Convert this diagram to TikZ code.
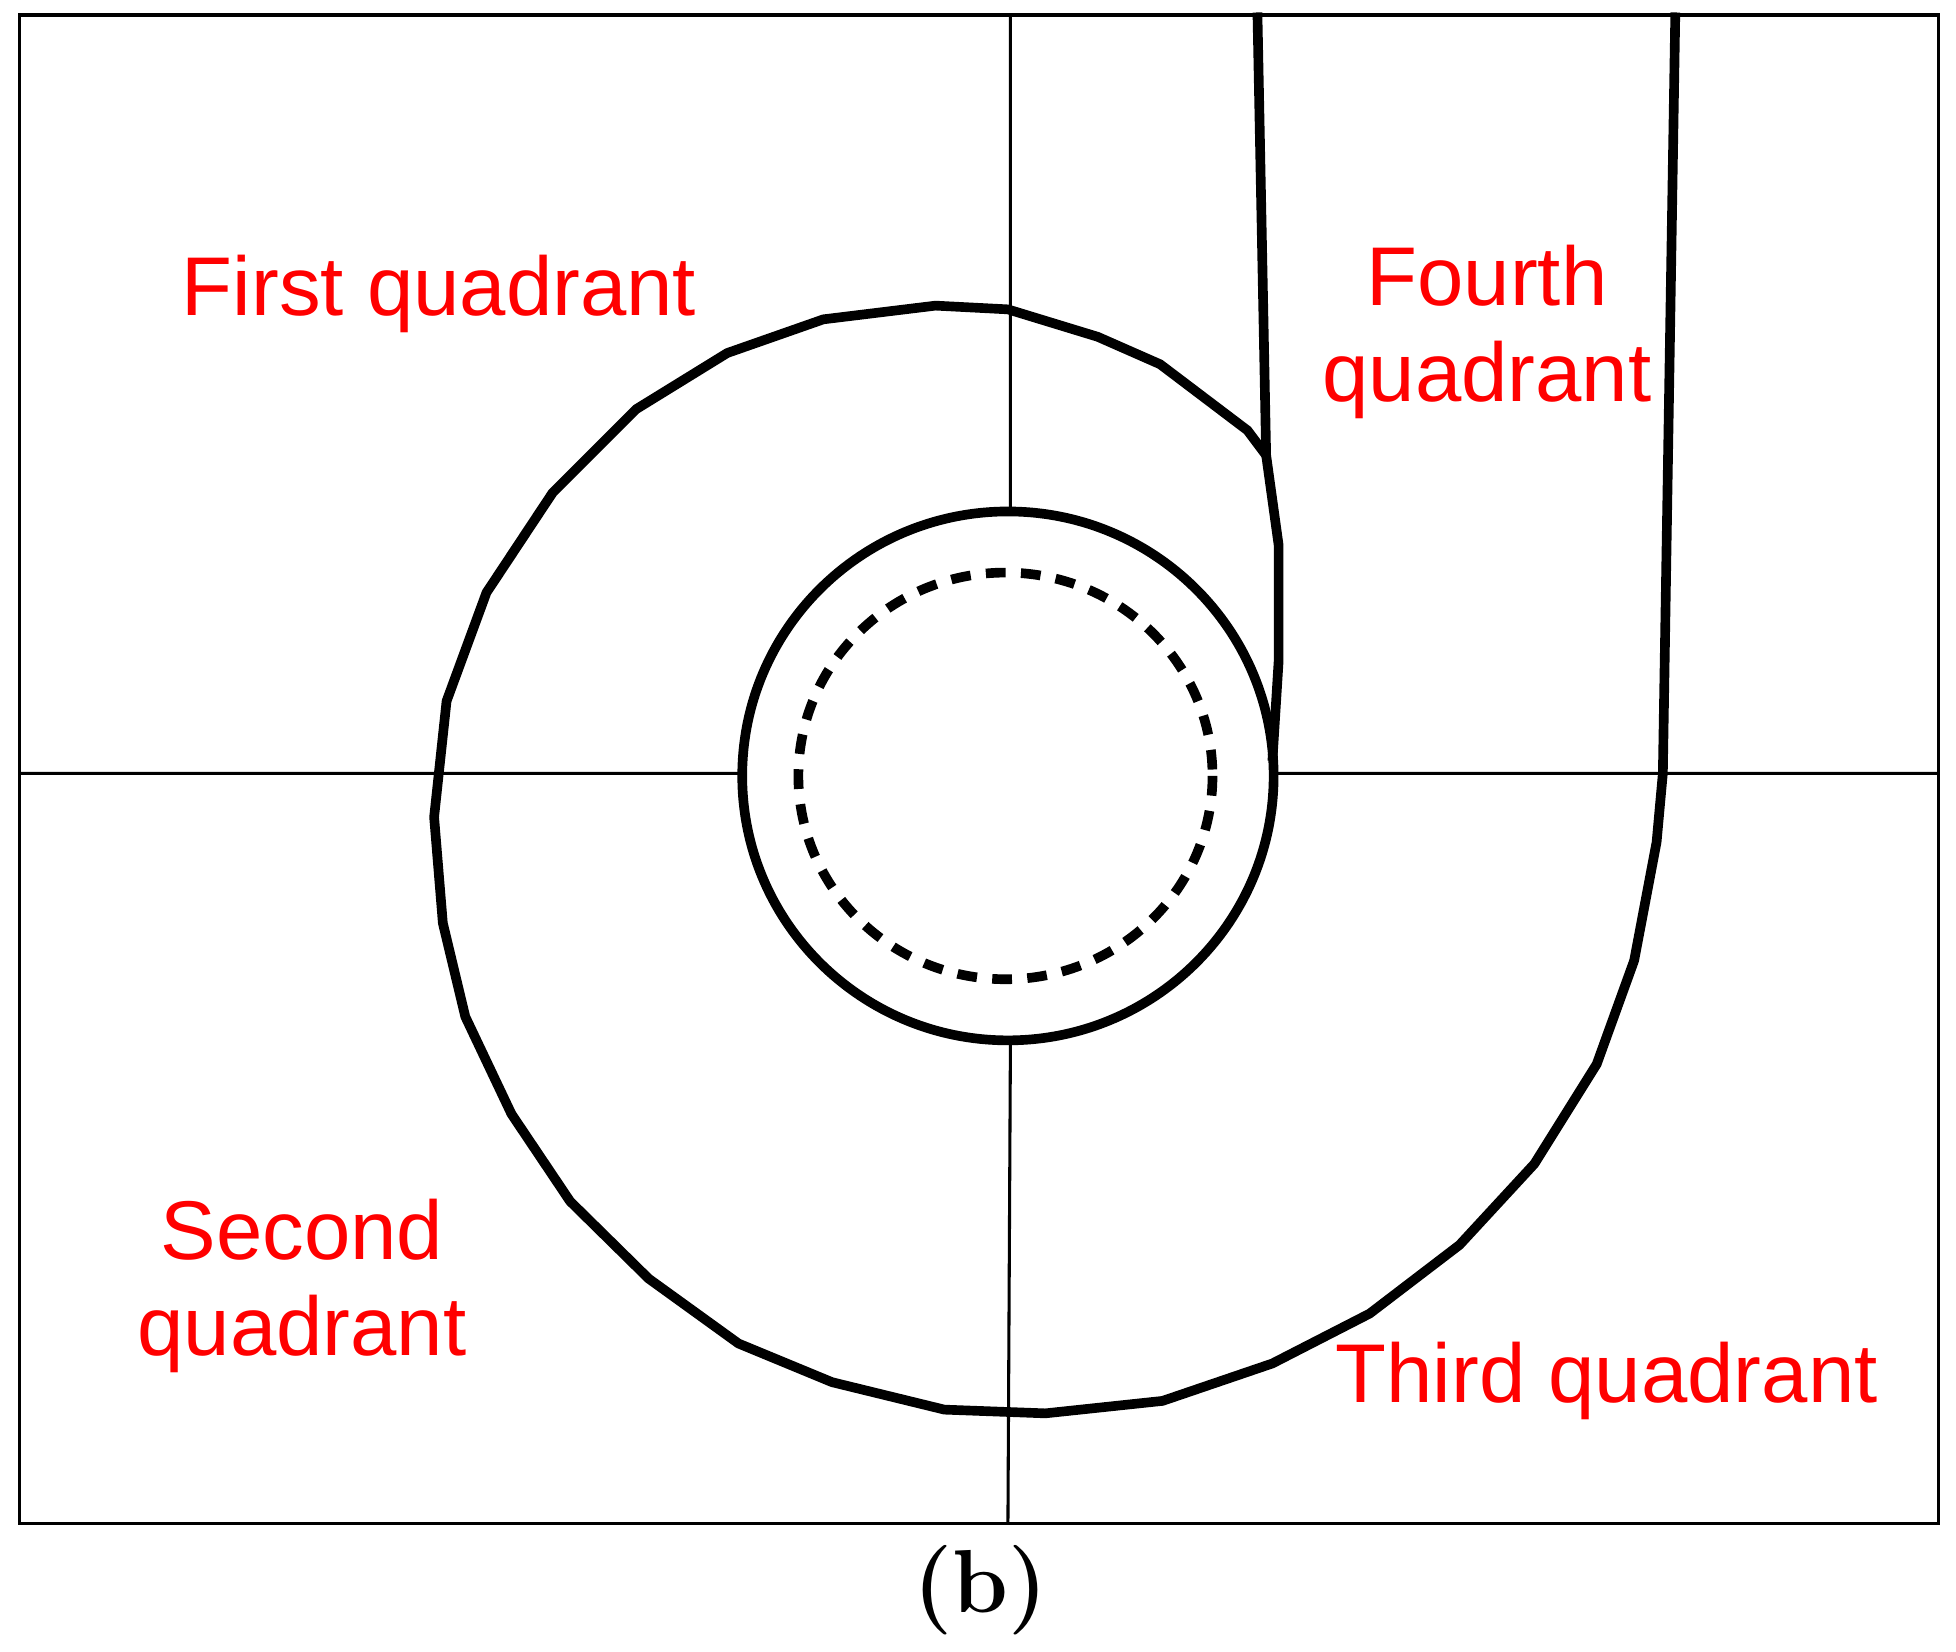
\documentclass[tikz,border=0pt]{standalone}
\usepackage{fontspec}
\newfontfamily\lab{Liberation Sans}
\begin{document}
\begin{tikzpicture}[x=0.01cm,y=-0.01cm,
  thin line/.style={line width=0.7pt},
  thick line/.style={line width=2.2pt,line join=round},
  qlabel/.style={text=red,font=\lab\fontsize{19}{23}\selectfont,align=center,inner sep=0pt}]
\useasboundingbox (0,0) rectangle (1568,1324);
\fill[white] (0,0) rectangle (1568,1324);
\draw[thin line] (16,12) rectangle (1554,1221);
\coordinate (L) at (16,620); \coordinate (Li) at (595,620);
\coordinate (R) at (1554,620); \coordinate (Ri) at (1022,620);
\coordinate (T) at (810,12); \coordinate (Ti) at (810,410);
\coordinate (B) at (808,1221); \coordinate (Bi) at (810,835);
\draw[thin line] (L)--(Li) (Ri)--(R) (T)--(Ti) (Bi)--(B);
\draw[thick line] (808,622) ellipse [x radius=213, y radius=212];
\draw[thick line,dash pattern=on 4.5pt off 3.5pt] (806,622) ellipse [x radius=166, y radius=163];
\draw[thick line] (1008,10) -- (1015,365) -- (1025,437) -- (1025,530) -- (1020,610);
\draw[thick line] (1015,365) -- (1000,345) -- (930,292) -- (880,270) -- (808,248) -- (750,245) -- (660,256) -- (583,283) -- (510,328) -- (443,395) -- (390,475) -- (358,562) -- (348,655) -- (355,740) -- (373,815) -- (410,893) -- (457,963) -- (520,1025) -- (592,1077) -- (667,1108) -- (757,1130) -- (838,1133) -- (932,1123) -- (1020,1093) -- (1098,1053) -- (1170,998) -- (1230,933) -- (1280,853) -- (1310,770) -- (1328,675) -- (1333,620) -- (1343,10);
\node[qlabel] (q1) at (352,236) {First quadrant};
\node[qlabel] (q4) at (1192,266) {Fourth\\[-1pt]quadrant};
\node[qlabel] (q2) at (242,1031) {Second\\[-1pt]quadrant};
\node[qlabel] (q3) at (1288,1107) {Third quadrant};
\node[scale=1.7,font=\large\bfseries] (cap) at (786,1275) {(b)};
\end{tikzpicture}
\end{document}
